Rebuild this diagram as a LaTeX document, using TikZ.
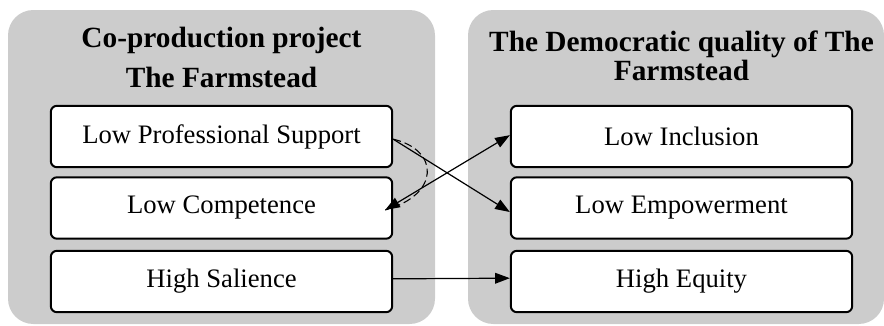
\documentclass[tikz,border=0pt]{standalone}
\usepackage{fontspec}
\setmainfont{Liberation Serif}
\usetikzlibrary{arrows.meta}

\tikzset{
  panel/.style={fill=black!20, rounded corners=19pt},
  item/.style={draw, line width=1.5pt, fill=white, rounded corners=4.5pt,
    minimum width=256pt, minimum height=46pt, font=\fontsize{20}{24}\selectfont},
  heading/.style={align=center, font=\fontsize{22}{30}\selectfont\bfseries},
  link/.style={line width=0.9pt, >={Triangle[length=11pt,width=8pt]}},
}

\begin{document}
\begin{tikzpicture}[x=0.75pt, y=-0.75pt]
  \useasboundingbox (0,0) rectangle (884,325);

  % the two grey panels
  \fill[panel] (8,10) rectangle (435,324);
  \fill[panel] (468,10) rectangle (884,324);

  \node[heading] (hleft) at (221.5,57) {Co-production project\\The Farmstead};
  \node[heading, font=\fontsize{22}{21.5}\selectfont\bfseries] (hright) at (681.5,56)
    {The Democratic quality of The\\Farmstead};

  \node[item] (lps) at (221.5,136.5) {Low Professional Support};
  \node[item] (lco) at (221.5,208) {Low Competence};
  \node[item] (hsa) at (221.5,281.5) {High Salience};

  \node[item] (lin) at (681.5,136.5) {Low Inclusion};
  \node[item] (lem) at (681.5,208) {Low Empowerment};
  \node[item] (heq) at (681.5,281.5) {High Equity};

  % connectors
  \draw[link, ->] ([yshift=-2pt]lps.east) -- ([yshift=-3pt]lem.west);
  \draw[link, <->] ([xshift=-6pt,yshift=-1.5pt]lco.east) -- ([yshift=1pt]lin.west);
  \draw[line width=0.8pt, dash pattern=on 6pt off 3pt] ([yshift=-2pt]lps.east)
    .. controls (440,150) and (440,195) .. ([xshift=-6pt,yshift=-1.5pt]lco.east);
  \draw[link, ->] ([yshift=2pt]hsa.east) -- ([yshift=2.5pt]heq.west);
\end{tikzpicture}
\end{document}
